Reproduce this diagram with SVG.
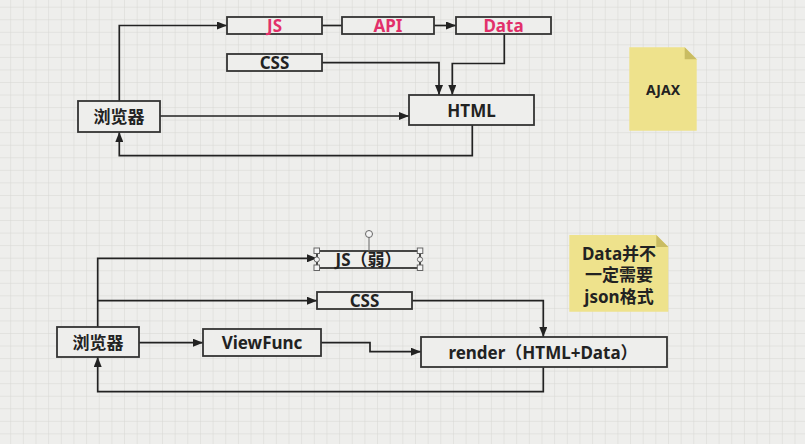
<svg xmlns="http://www.w3.org/2000/svg" width="805" height="444" viewBox="0 0 805 444">
<defs>
<pattern id="grid" x="10.2" y="6.7" width="12.65" height="12.55" patternUnits="userSpaceOnUse">
<path d="M0 0V12.55M0 0H12.65" fill="none" stroke="#d6d6d2" stroke-width="1"/>
</pattern>
<marker id="ah" viewBox="0 0 10 8" refX="10" refY="4" markerWidth="10" markerHeight="8" markerUnits="userSpaceOnUse" orient="auto">
<path d="M0 0L10 4L0 8Z" fill="#222"/>
</marker>
<style>
.box{fill:#eeeeec;stroke:#333;stroke-width:1.8}
.t{font-family:"Noto Sans","Noto Sans CJK SC",sans-serif;font-weight:bold;font-size:17px;fill:#222;text-anchor:middle;dominant-baseline:central}
.red{fill:#e2306a}
.c{fill:none;stroke:#222;stroke-width:1.7}
.note{fill:#eee28c}
.fold{fill:#c9bc62}
.h{fill:#f4f4f4;stroke:#666;stroke-width:1}
</style>
</defs>
<rect width="805" height="444" fill="#eeeeec"/>
<rect width="805" height="444" fill="url(#grid)"/>

<g id="connectors">
<path class="c" d="M119.3 101V25.5H227" marker-end="url(#ah)"/>
<path class="c" d="M322 25.5H342"/>
<path class="c" d="M434 25.5H456" marker-end="url(#ah)"/>
<path class="c" d="M322 62.7H439V95" marker-end="url(#ah)"/>
<path class="c" d="M504.3 34V63.5H452.3V95" marker-end="url(#ah)"/>
<path class="c" d="M160 116H409" marker-end="url(#ah)"/>
<path class="c" d="M472.3 125V155.7H119.3V132" marker-end="url(#ah)"/>

<path class="c" d="M97.7 327V258.3H317" marker-end="url(#ah)"/>
<path class="c" d="M97.7 300.7H317" marker-end="url(#ah)"/>
<path class="c" d="M139 342.7H203" marker-end="url(#ah)"/>
<path class="c" d="M321 342.7H370V351.7H421" marker-end="url(#ah)"/>
<path class="c" d="M412 300.7H543.3V337" marker-end="url(#ah)"/>
<path class="c" d="M543.3 367V391.7H97.7V357" marker-end="url(#ah)"/>
</g>

<g id="js1"><rect class="box" x="227" y="17" width="95" height="17"/><text class="t red" x="274.5" y="25.5">JS</text></g>
<g id="api"><rect class="box" x="342" y="17" width="92" height="17"/><text class="t red" x="388" y="25.5">API</text></g>
<g id="data"><rect class="box" x="456" y="17" width="95" height="17"/><text class="t red" x="503.5" y="25.5">Data</text></g>
<g id="css1"><rect class="box" x="227" y="54" width="95" height="17"/><text class="t" x="274.5" y="62.5">CSS</text></g>
<g id="browser1"><rect class="box" x="78" y="101" width="82" height="31"/><text class="t" x="119" y="116.5">浏览器</text></g>
<g id="html"><rect class="box" x="409" y="95" width="125" height="30"/><text class="t" x="471.5" y="110">HTML</text></g>

<g id="ajax">
<path class="note" d="M629.3 47.3H684.7L696.7 59.3V130.7H629.3Z"/>
<path class="fold" d="M684.7 47.3L696.7 59.3H684.7Z"/>
<text class="t" x="663" y="89" style="font-size:14px">AJAX</text>
</g>

<g id="js2">
<rect class="box" x="317" y="251" width="103" height="17"/>
<text class="t" x="368.5" y="259.5">JS（弱）</text>
<path d="M369 237V251" stroke="#666" stroke-width="1"/>
<circle class="h" cx="369" cy="234" r="3.5"/>
<rect class="h" x="314" y="248" width="5.5" height="5.5"/>
<rect class="h" x="417.3" y="248" width="5.5" height="5.5"/>
<rect class="h" x="314" y="265" width="5.5" height="5.5"/>
<rect class="h" x="417.3" y="265" width="5.5" height="5.5"/>
<circle class="h" cx="316.8" cy="259.5" r="2.6"/>
<circle class="h" cx="420" cy="259.5" r="2.6"/>
</g>
<g id="css2"><rect class="box" x="317" y="292" width="95" height="17"/><text class="t" x="364.5" y="300.5">CSS</text></g>
<g id="browser2"><rect class="box" x="57" y="327" width="82" height="30"/><text class="t" x="98" y="342">浏览器</text></g>
<g id="viewfunc"><rect class="box" x="203" y="329" width="118" height="27"/><text class="t" x="262" y="342.5">ViewFunc</text></g>
<g id="render"><rect class="box" x="421" y="337" width="246" height="30"/><text class="t" x="543" y="352">render（HTML+Data）</text></g>

<g id="note2">
<path class="note" d="M569.3 235H656.3L668.3 247V311.7H569.3Z"/>
<path class="fold" d="M656.3 235L668.3 247H656.3Z"/>
<text class="t" x="619" y="253.5">Data并不</text>
<text class="t" x="619" y="274.5">一定需要</text>
<text class="t" x="619" y="296">json格式</text>
</g>
</svg>
